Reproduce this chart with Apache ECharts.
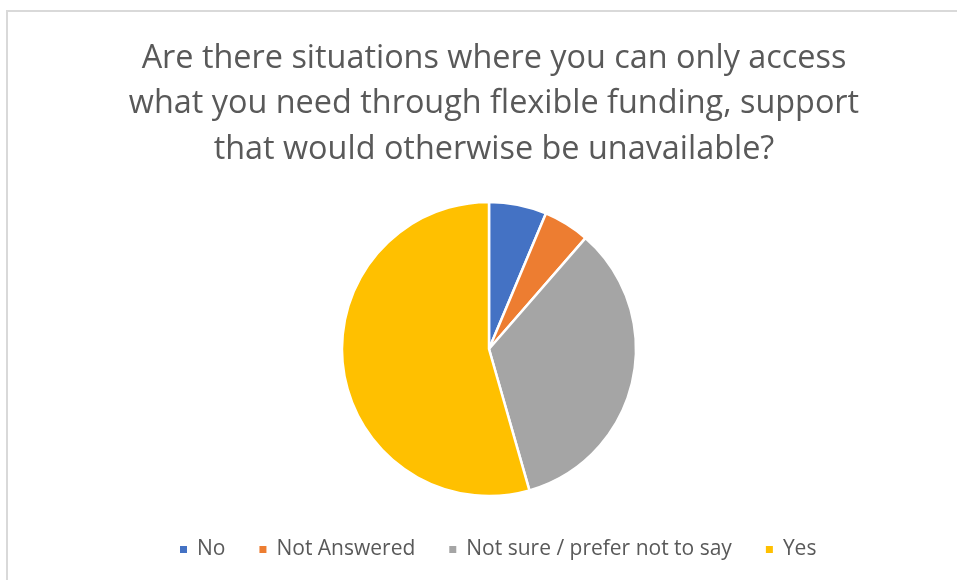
<!DOCTYPE html>
<html>
<head>
<meta charset="utf-8">
<script src="https://cdn.jsdelivr.net/npm/echarts@6/dist/echarts.min.js"></script>
<style>
  html, body { margin: 0; padding: 0; background: #fff; }
  #chart { width: 957px; height: 580px; }
</style>
</head>
<body>
<div id="chart"></div>
<script>
// Survey responses
const categories = ['No', 'Not Answered', 'Not sure / prefer not to say', 'Yes'];
const responses = [5, 4, 27, 43];
const palette = ['#4472C4', '#ED7D31', '#A5A5A5', '#FFC000'];

const titleText = 'Are there situations where you can only access\nwhat you need through flexible funding, support\nthat would otherwise be unavailable?';

const chart = echarts.init(document.getElementById('chart'), null, { renderer: 'canvas' });

chart.setOption({
  backgroundColor: '#ffffff',
  animation: false,
  color: palette,
  graphic: [
    {
      type: 'polyline',
      shape: { points: [[7, 580], [7, 11], [957, 11]] },
      style: { stroke: '#d9d9d9', lineWidth: 2, fill: null },
      silent: true
    }
  ],
  title: {
    text: titleText,
    left: 489,
    top: 31,
    textAlign: 'center',
    textStyle: {
      fontFamily: 'Open Sans',
      fontWeight: 'normal',
      fontSize: 32.4,
      lineHeight: 45.5,
      color: '#595959'
    }
  },
  legend: {
    bottom: 15,
    left: 173,
    padding: 5,
    itemWidth: 9,
    itemHeight: 9,
    itemGap: 32,
    icon: 'rect',
    textStyle: { fontFamily: 'Open Sans', fontSize: 21, color: '#595959', padding: [0, 0, 0, 4] },
    data: categories
  },
  series: [
    {
      type: 'pie',
      center: [489, 349],
      radius: 147,
      startAngle: 90,
      clockwise: true,
      label: { show: false },
      labelLine: { show: false },
      itemStyle: { borderColor: '#ffffff', borderWidth: 2.5 },
      emphasis: { disabled: true },
      data: categories.map((name, i) => ({ name, value: responses[i] }))
    }
  ]
});
</script>
</body>
</html>
